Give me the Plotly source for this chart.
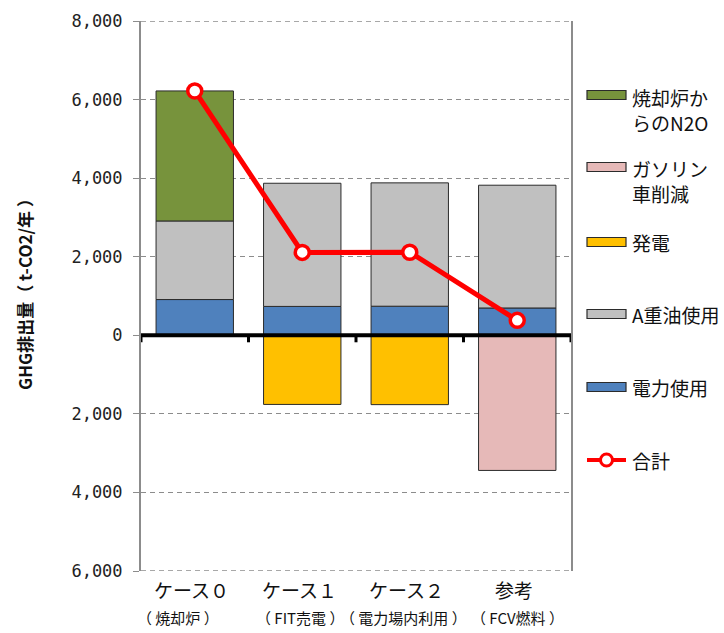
import plotly.graph_objects as go

# Categories and their sub-notes
cases = ["ケース０", "ケース１", "ケース２", "参考"]
case_notes = ["（焼却炉）", "（FIT売電）", "（電力場内利用）", "（FCV燃料）"]

# GHG emissions by source (t-CO2/year); negative values are reductions
power_use = [910, 735, 740, 695]          # 電力使用
heavy_oil = [2000, 3135, 3140, 3125]      # A重油使用
incinerator_n2o = [3310, None, None, None]  # 焼却炉からのN2O
generation = [None, -1760, -1765, None]   # 発電
gasoline_cut = [None, None, None, -3440]  # ガソリン車削減

totals = [sum(v or 0 for v in vals) for vals in
          zip(power_use, heavy_oil, incinerator_n2o, generation, gasoline_cut)]

y_ticks = [-6000, -4000, -2000, 0, 2000, 4000, 6000, 8000]
y_ticktext = [f"{abs(v):,}" for v in y_ticks]

JP = "Noto Sans CJK JP"
C_GREEN = "#77933C"
C_PINK = "#E6B9B8"
C_YELLOW = "#FFC000"
C_GRAY = "#C0C0C0"
C_BLUE = "#4F81BD"
C_RED = "#FF0000"
EDGE = "#2b2b2b"
GRID = "#8c8c8c"

# plot-area pixel box
L, R, T, B = 141, 571, 21, 571
W, H = 724, 633


def px_x(px):
    return (px - L) / (R - L)


def px_y(py):
    return (B - py) / (B - T)


fig = go.Figure()

bar_series = [
    ("電力使用", power_use, C_BLUE),
    ("A重油使用", heavy_oil, C_GRAY),
    ("焼却炉からのN2O", incinerator_n2o, C_GREEN),
    ("発電", generation, C_YELLOW),
    ("ガソリン車削減", gasoline_cut, C_PINK),
]
for name, vals, color in bar_series:
    fig.add_trace(go.Bar(
        x=cases, y=vals, name=name,
        marker=dict(color=color, line=dict(color=EDGE, width=1)),
        showlegend=False,
    ))

fig.add_trace(go.Scatter(
    x=cases, y=totals, name="合計", mode="lines+markers",
    line=dict(color=C_RED, width=5),
    marker=dict(symbol="circle", size=14, color="white",
                line=dict(color=C_RED, width=3.5)),
    showlegend=False,
))

shapes = []
# dashed border lines at the top and bottom of the value range
for yv in (y_ticks[0], y_ticks[-1]):
    shapes.append(dict(type="line", xref="x", yref="y", x0=-0.5, x1=3.5, y0=yv, y1=yv,
                       line=dict(color=GRID, width=1.5, dash="5px,4px"), layer="below"))
# baseline at zero with category boundary ticks
shapes.append(dict(type="line", xref="x", yref="y", x0=-0.5, x1=3.5, y0=0, y1=0,
                   line=dict(color="black", width=4), layer="above"))
for b in [-0.5, 0.5, 1.5, 2.5, 3.5]:
    shapes.append(dict(type="line", xref="x", yref="y", ysizemode="pixel",
                       yanchor=0, x0=b, x1=b, y0=0, y1=-7,
                       line=dict(color="black", width=3), layer="above"))

annotations = []
# category labels under the plot
note_shift = [-17, -2, -6, 0]
for i, (c, n) in enumerate(zip(cases, case_notes)):
    annotations.append(dict(x=i, y=px_y(589), xref="x", yref="paper", text=c,
                            showarrow=False, yanchor="middle", xshift=-3,
                            font=dict(family=JP, size=19, color="#111")))
    annotations.append(dict(x=i, y=px_y(617), xref="x", yref="paper",
                            text=n.replace("（", "（ ").replace("）", " ）"),
                            showarrow=False, yanchor="middle", xshift=note_shift[i],
                            font=dict(family=JP, size=15, color="#111")))

# y-axis title
annotations.append(dict(x=px_x(24), y=px_y(290), xref="paper", yref="paper",
                        text="<b>GHG排出量（ t-CO2/年 ）</b>", textangle=-90,
                        showarrow=False, xanchor="center", yanchor="middle",
                        font=dict(family=JP, size=17, color="#111")))

# legend on the right
legend_items = [
    ("bar", C_GREEN, 95, "焼却炉か<br>らのN2O", 110),
    ("bar", C_PINK, 167, "ガソリン<br>車削減", 181),
    ("bar", C_YELLOW, 242, "発電", 242),
    ("bar", C_GRAY, 314, "A重油使用", 314),
    ("bar", C_BLUE, 387, "電力使用", 387),
    ("line", C_RED, 460, "合計", 460),
]
kx0, kx1 = 587, 626
for kind, color, ky, txt, ty in legend_items:
    if kind == "bar":
        shapes.append(dict(type="rect", xref="paper", yref="paper",
                           x0=px_x(kx0), x1=px_x(kx1), y0=px_y(ky + 4.5), y1=px_y(ky - 4.5),
                           fillcolor=color, line=dict(color=EDGE, width=1.2)))
    else:
        shapes.append(dict(type="line", xref="paper", yref="paper",
                           x0=px_x(kx0), x1=px_x(kx1), y0=px_y(ky), y1=px_y(ky),
                           line=dict(color=color, width=4)))
        cx = (kx0 + kx1) / 2
        shapes.append(dict(type="circle", xref="paper", yref="paper",
                           x0=px_x(cx - 6), x1=px_x(cx + 6), y0=px_y(ky + 6), y1=px_y(ky - 6),
                           fillcolor="white", line=dict(color=color, width=3)))
    annotations.append(dict(x=px_x(630), y=px_y(ty), xref="paper", yref="paper",
                            text=txt, showarrow=False, xanchor="left", yanchor="middle",
                            align="left",
                            font=dict(family=JP, size=19, color="#111")))

fig.update_layout(
    width=W, height=H,
    margin=dict(l=L, r=W - R, t=T, b=H - B, pad=0),
    paper_bgcolor="white", plot_bgcolor="white",
    barmode="relative", bargap=0.28,
    shapes=shapes, annotations=annotations,
    showlegend=False,
    xaxis=dict(range=[-0.5, 3.5], showticklabels=False, showgrid=False,
               zeroline=False, showline=False, ticks=""),
    yaxis=dict(range=[-6000, 8000], tickvals=y_ticks, ticktext=y_ticktext,
               showgrid=True, gridcolor=GRID, gridwidth=1, griddash="5px,4px",
               zeroline=False, showline=True, linecolor=GRID, linewidth=2,
               mirror=True, ticks="outside", ticklen=6, tickcolor=GRID,
               tickwidth=1, ticklabelstandoff=7,
               tickfont=dict(family="DejaVu Sans Mono", size=17, color="#222")),
)

fig.write_html("out.html")
